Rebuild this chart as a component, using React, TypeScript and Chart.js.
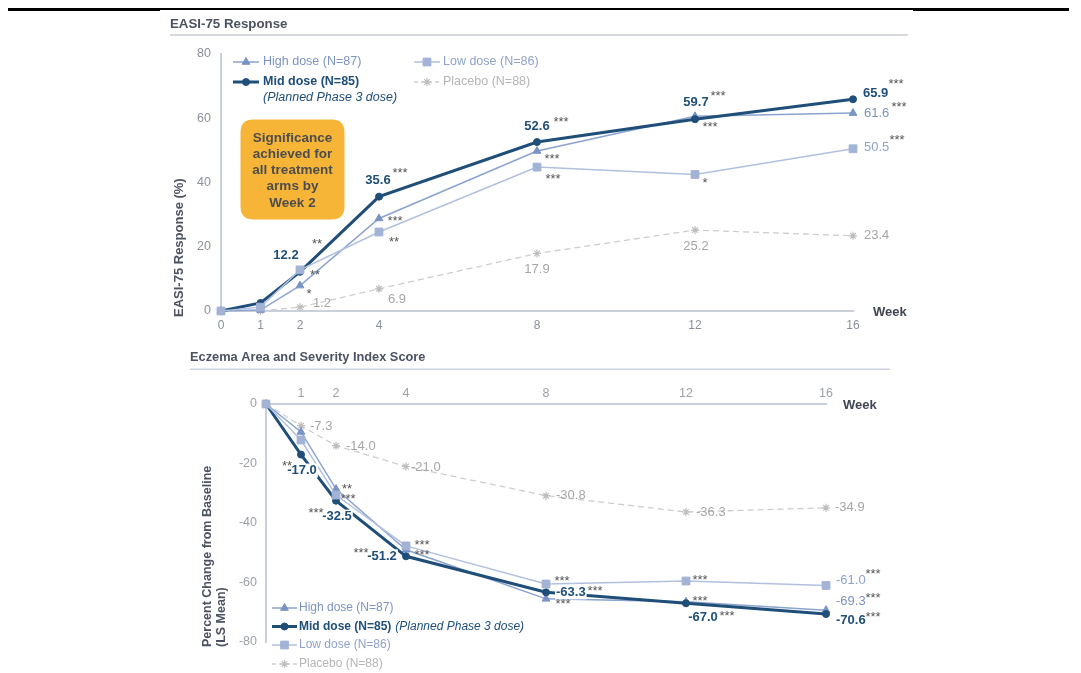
import React, { useEffect, useRef } from 'react';
import { Chart, registerables } from 'chart.js';

Chart.register(...registerables);

const FONT = '"Liberation Sans", Arial, Helvetica, sans-serif';

// ---------- data ----------
const weeks = [0, 1, 2, 4, 8, 12, 16];
const seriesNames = ['High dose (N=87)', 'Mid dose (N=85)', 'Low dose (N=86)', 'Placebo (N=88)'];
const midNote = '(Planned Phase 3 dose)';

// EASI-75 response (%)
const easiTitle = 'EASI-75 Response';
const easiYTitle = 'EASI-75 Response (%)';
const easiWeekTicks = [0, 1, 2, 4, 8, 12, 16];
const easiYTicks = [0, 20, 40, 60, 80];
const easiHigh = [0, 0.3, 7.9, 28.8, 49.8, 60.6, 61.6];
const easiMid = [0, 2.5, 12.2, 35.6, 52.6, 59.7, 65.9];
const easiLow = [0, 1.2, 12.8, 24.6, 44.8, 42.5, 50.5];
const easiPlacebo = [0, 0, 1.2, 6.9, 17.9, 25.2, 23.4];
const easiHighSig = ['', '', '*', '***', '***', '***', '***'];
const easiMidSig = ['', '', '**', '***', '***', '***', '***'];
const easiLowSig = ['', '', '**', '**', '***', '*', '***'];
const calloutLines = ['Significance', 'achieved for', 'all treatment', 'arms by', 'Week 2'];

// EASI percent change from baseline
const esiTitle = 'Eczema Area and Severity Index Score';
const esiYTitle1 = 'Percent Change from Baseline';
const esiYTitle2 = '(LS Mean)';
const esiWeekTicks = [1, 2, 4, 8, 12, 16];
const esiYTicks = [0, -20, -40, -60, -80];
const esiHigh = [0, -9.4, -28.6, -49.0, -65.5, -66.5, -69.3];
const esiMid = [0, -17.0, -32.5, -51.2, -63.3, -67.0, -70.6];
const esiLow = [0, -12.1, -30.6, -47.7, -60.5, -59.5, -61.0];
const esiPlacebo = [0, -7.3, -14.0, -21.0, -30.8, -36.3, -34.9];
const esiHighSig = ['', '', '**', '***', '***', '***', '***'];
const esiMidSig = ['', '**', '***', '***', '***', '***', '***'];
const esiLowSig = ['', '', '***', '***', '***', '***', '***'];

const weekLabel = 'Week';

// ---------- styles ----------
type St = { line: string; point: string; text: string; width: number; pointStyle: string; radius: number; dash: number[] };
const STYLES: St[] = [
  { line: '#8ba3cf', point: '#7a93c5', text: '#7b92c0', width: 1.5, pointStyle: 'triangle', radius: 4.5, dash: [] },
  { line: '#1f4e79', point: '#1f4e79', text: '#1f4e79', width: 3, pointStyle: 'circle', radius: 3.5, dash: [] },
  { line: '#b2c0de', point: '#a3b3d6', text: '#8fa2cb', width: 1.5, pointStyle: 'rect', radius: 5.5, dash: [] },
  { line: '#cdcdcd', point: '#bdbdbd', text: '#a6a6a6', width: 1.3, pointStyle: 'star', radius: 4, dash: [6, 4] },
];
const DRAW_ORDER = [2, 1, 0, 3]; // low on top, then mid, high, placebo
const LEGEND_TEXT = ['#7d93bf', '#1f4e79', '#8fa2cb', '#b5b5b5'];
const AXIS = '#c9d0dc';
const TITLE = '#4b5261';
const STAR = '#555555';

// label placement: [series, pointIndex, kind, dx, dy, align]
type Spot = [number, number, 'v' | 's', number, number, 'l' | 'c'];
const easiSpots: Spot[] = [
  [1, 2, 'v', -14, -16, 'c'], [1, 3, 'v', -1, -16, 'c'], [1, 4, 'v', 0, -16, 'c'], [1, 5, 'v', 1, -17, 'c'], [1, 6, 'v', 10, -6, 'l'],
  [0, 6, 'v', 11, 0, 'l'], [2, 6, 'v', 11, -1, 'l'],
  [3, 2, 'v', 13, -4, 'l'], [3, 3, 'v', 18, 11, 'c'], [3, 4, 'v', 0, 16, 'c'], [3, 5, 'v', 1, 16, 'c'], [3, 6, 'v', 11, 0, 'l'],
  [1, 2, 's', 17, -31, 'c'], [2, 2, 's', 15, 2, 'c'], [0, 2, 's', 9, 5, 'c'],
  [0, 3, 's', 16, 0, 'c'], [2, 3, 's', 15, 7, 'c'], [1, 3, 's', 21, -27, 'c'],
  [1, 4, 's', 24, -23, 'c'], [0, 4, 's', 15, 5, 'c'], [2, 4, 's', 16, 9, 'c'],
  [1, 5, 's', 23, -26, 'c'], [0, 5, 's', 15, 8, 'c'], [2, 5, 's', 10, 6, 'c'],
  [1, 6, 's', 43, -18, 'c'], [0, 6, 's', 46, -9, 'c'], [2, 6, 's', 44, -12, 'c'],
];
const esiSpots: Spot[] = [
  [3, 1, 'v', 9, 1, 'l'], [3, 2, 'v', 10, 1, 'l'], [3, 3, 'v', 5, 1, 'l'], [3, 4, 'v', 10, 0, 'l'], [3, 5, 'v', 10, 0, 'l'], [3, 6, 'v', 9, 0, 'l'],
  [1, 1, 'v', 1, 16, 'c'], [1, 2, 'v', 1, 16, 'c'], [1, 3, 'v', -24, 0, 'c'], [1, 4, 'v', 10, 0, 'l'], [1, 5, 'v', 17, 14, 'c'], [1, 6, 'v', 10, 6, 'l'],
  [2, 6, 'v', 10, -5, 'l'], [0, 6, 'v', 10, -9, 'l'],
  [1, 1, 's', -14, 8, 'c'], [0, 2, 's', 11, -3, 'c'], [2, 2, 's', 12, 1, 'c'], [1, 2, 's', -20, 9, 'c'],
  [1, 3, 's', -45, -6, 'c'], [2, 3, 's', 16, -4, 'c'], [0, 3, 's', 16, 2, 'c'],
  [2, 4, 's', 16, -6, 'c'], [1, 4, 's', 49, -4, 'c'], [0, 4, 's', 17, 2, 'c'],
  [2, 5, 's', 14, -4, 'c'], [0, 5, 's', 14, -4, 'c'], [1, 5, 's', 41, 10, 'c'],
  [2, 6, 's', 47, -14, 'c'], [0, 6, 's', 47, -15, 'c'], [1, 6, 's', 47, 0, 'c'],
];

// ---------- helpers ----------
function makeDatasets(series: number[][]) {
  return series.map((vals, s) => ({
    label: seriesNames[s],
    data: weeks.map((w, i) => ({ x: w, y: vals[i] })),
    borderColor: STYLES[s].line,
    backgroundColor: STYLES[s].point,
    borderWidth: STYLES[s].width,
    borderDash: STYLES[s].dash,
    pointStyle: STYLES[s].pointStyle,
    pointRadius: STYLES[s].radius,
    pointHoverRadius: STYLES[s].radius,
    pointBackgroundColor: STYLES[s].point,
    pointBorderColor: STYLES[s].point,
    pointBorderWidth: s === 3 ? 1.2 : 1,
    order: DRAW_ORDER.indexOf(s),
    tension: 0,
    fill: false,
    clip: false,
  }));
}

function drawMarker(ctx: CanvasRenderingContext2D, s: number, x: number, y: number) {
  const st = STYLES[s];
  const r = st.radius;
  ctx.save();
  ctx.fillStyle = st.point;
  ctx.strokeStyle = st.point;
  ctx.lineWidth = s === 3 ? 1.2 : 1;
  ctx.setLineDash([]);
  ctx.beginPath();
  if (st.pointStyle === 'circle') {
    ctx.arc(x, y, r, 0, Math.PI * 2);
    ctx.fill();
    ctx.stroke();
  } else if (st.pointStyle === 'triangle') {
    for (let k = 0; k < 3; k++) {
      const a = (k * 2 * Math.PI) / 3;
      const px = x + Math.sin(a) * r;
      const py = y - Math.cos(a) * r;
      if (k === 0) ctx.moveTo(px, py);
      else ctx.lineTo(px, py);
    }
    ctx.closePath();
    ctx.fill();
    ctx.stroke();
  } else if (st.pointStyle === 'rect') {
    const h = r * Math.SQRT1_2;
    ctx.rect(x - h, y - h, 2 * h, 2 * h);
    ctx.fill();
    ctx.stroke();
  } else {
    for (let k = 0; k < 4; k++) {
      const a = (k * Math.PI) / 4;
      ctx.moveTo(x - Math.cos(a) * r, y - Math.sin(a) * r);
      ctx.lineTo(x + Math.cos(a) * r, y + Math.sin(a) * r);
    }
    ctx.stroke();
  }
  ctx.restore();
}

function legendItem(ctx: CanvasRenderingContext2D, s: number, x0: number, x1: number, y: number) {
  const st = STYLES[s];
  ctx.save();
  ctx.strokeStyle = st.line;
  ctx.lineWidth = st.width;
  ctx.setLineDash(st.dash.length ? [4, 3] : []);
  ctx.beginPath();
  ctx.moveTo(x0, y);
  ctx.lineTo(x1, y);
  ctx.stroke();
  ctx.restore();
  drawMarker(ctx, s, (x0 + x1) / 2, y);
}

function drawSpots(chart: any, spots: Spot[], vals: number[][], sigs: string[][], whiteBehindMid: boolean) {
  const ctx: CanvasRenderingContext2D = chart.ctx;
  ctx.save();
  spots.forEach(([s, i, k, dx, dy, al]) => {
    const pt = chart.getDatasetMeta(s).data[i];
    if (!pt) return;
    const x = pt.x + dx;
    const y = pt.y + dy;
    if (k === 'v') {
      const t = vals[s][i].toFixed(1);
      ctx.font = (s === 1 ? 'bold ' : '') + '13px ' + FONT;
      ctx.textAlign = al === 'l' ? 'left' : 'center';
      ctx.textBaseline = 'middle';
      if (s === 1 && whiteBehindMid) {
        const w = ctx.measureText(t).width;
        const left = al === 'l' ? x : x - w / 2;
        ctx.fillStyle = '#fff';
        ctx.fillRect(left - 1, y - 7, w + 2, 14);
      }
      ctx.fillStyle = STYLES[s].text;
      ctx.fillText(t, x, y);
    } else {
      const t = sigs[s][i];
      if (!t) return;
      ctx.font = '13px ' + FONT;
      ctx.fillStyle = STAR;
      ctx.textAlign = 'center';
      ctx.textBaseline = 'alphabetic';
      ctx.fillText(t, x, y + 7);
    }
  });
  ctx.restore();
}

function text(ctx: CanvasRenderingContext2D, t: string, x: number, y: number, font: string, color: string, align: CanvasTextAlign = 'left') {
  ctx.font = font;
  ctx.fillStyle = color;
  ctx.textAlign = align;
  ctx.textBaseline = 'middle';
  ctx.fillText(t, x, y);
}

function roundRect(ctx: CanvasRenderingContext2D, x: number, y: number, w: number, h: number, r: number) {
  ctx.beginPath();
  ctx.moveTo(x + r, y);
  ctx.lineTo(x + w - r, y);
  ctx.quadraticCurveTo(x + w, y, x + w, y + r);
  ctx.lineTo(x + w, y + h - r);
  ctx.quadraticCurveTo(x + w, y + h, x + w - r, y + h);
  ctx.lineTo(x + r, y + h);
  ctx.quadraticCurveTo(x, y + h, x, y + h - r);
  ctx.lineTo(x, y + r);
  ctx.quadraticCurveTo(x, y, x + r, y);
  ctx.closePath();
}

const topExtras = {
  id: 'topExtras',
  afterDraw(chart: any) {
    const ctx: CanvasRenderingContext2D = chart.ctx;
    ctx.save();
    // header rule
    ctx.fillStyle = '#000';
    ctx.fillRect(8, 8, 1061, 3);
    ctx.fillStyle = '#fff';
    ctx.fillRect(160, 10, 753, 2);
    // title
    text(ctx, easiTitle, 170, 24, 'bold 13.3px ' + FONT, TITLE);
    ctx.fillStyle = '#d6dadf';
    ctx.fillRect(170, 34, 738, 2);
    // y title
    ctx.save();
    ctx.translate(179, 317);
    ctx.rotate(-Math.PI / 2);
    text(ctx, easiYTitle, 0, 0, 'bold 13px ' + FONT, TITLE);
    ctx.restore();
    // week label
    text(ctx, weekLabel, 873, 312, 'bold 13px ' + FONT, '#3f4553');
    // legend
    const lf = '12.5px ' + FONT;
    legendItem(ctx, 0, 233, 259, 62);
    text(ctx, seriesNames[0], 263, 62, lf, LEGEND_TEXT[0]);
    legendItem(ctx, 2, 414, 440, 62);
    text(ctx, seriesNames[2], 443, 62, lf, LEGEND_TEXT[2]);
    legendItem(ctx, 1, 233, 259, 82);
    text(ctx, seriesNames[1], 263, 82, 'bold ' + lf, LEGEND_TEXT[1]);
    legendItem(ctx, 3, 414, 440, 82);
    text(ctx, seriesNames[3], 443, 82, lf, LEGEND_TEXT[3]);
    text(ctx, midNote, 263, 98, 'italic ' + lf, LEGEND_TEXT[1]);
    // callout
    ctx.fillStyle = '#f7b538';
    roundRect(ctx, 240.5, 119.5, 104, 100, 13);
    ctx.fill();
    calloutLines.forEach((l, i) => text(ctx, l, 292.5, 138 + i * 16.2, 'bold 13.5px ' + FONT, '#4d4d4d', 'center'));
    ctx.restore();
    drawSpots(chart, easiSpots, [easiHigh, easiMid, easiLow, easiPlacebo], [easiHighSig, easiMidSig, easiLowSig, []], true);
  },
};

const botExtras = {
  id: 'botExtras',
  afterDraw(chart: any) {
    const ctx: CanvasRenderingContext2D = chart.ctx;
    ctx.save();
    text(ctx, esiTitle, 190, 17, 'bold 12.8px ' + FONT, TITLE);
    ctx.fillStyle = '#c9d1e3';
    ctx.fillRect(190, 28.5, 700, 1.5);
    ctx.save();
    ctx.translate(208, 307);
    ctx.rotate(-Math.PI / 2);
    text(ctx, esiYTitle1, 0, 0, 'bold 12.5px ' + FONT, TITLE);
    text(ctx, esiYTitle2, 0, 14, 'bold 12.5px ' + FONT, TITLE);
    ctx.restore();
    text(ctx, weekLabel, 843, 65, 'bold 13px ' + FONT, '#3f4553');
    // legend
    const lf = '12px ' + FONT;
    const rows = [0, 1, 2, 3];
    const ys = [268, 286.5, 305, 324];
    rows.forEach((s, r) => {
      legendItem(ctx, s, 272, 297, ys[r]);
      text(ctx, seriesNames[s], 299, ys[r], (s === 1 ? 'bold ' : '') + lf, LEGEND_TEXT[s]);
    });
    ctx.font = 'bold ' + lf;
    const w = ctx.measureText(seriesNames[1]).width;
    text(ctx, midNote, 299 + w + 4, ys[1], 'italic ' + lf, LEGEND_TEXT[1]);
    ctx.restore();
    drawSpots(chart, esiSpots, [esiHigh, esiMid, esiLow, esiPlacebo], [esiHighSig, esiMidSig, esiLowSig, []], true);
  },
};

function topConfig(): any {
  return {
    type: 'line',
    data: { datasets: makeDatasets([easiHigh, easiMid, easiLow, easiPlacebo]) },
    plugins: [topExtras],
    options: {
      responsive: false,
      animation: false,
      devicePixelRatio: 1,
      layout: { padding: { left: 0, right: 228, top: 54, bottom: 0 } },
      plugins: { legend: { display: false }, tooltip: { enabled: false } },
      scales: {
        x: {
          type: 'linear',
          min: 0,
          max: 16,
          afterBuildTicks: (sc: any) => { sc.ticks = easiWeekTicks.map((v) => ({ value: v })); },
          afterFit: (sc: any) => { sc.height = 29; },
          grid: { display: false, drawTicks: false },
          border: { display: true, color: AXIS, width: 2 },
          ticks: { padding: 7, color: '#8a909c', font: { size: 12, family: FONT }, autoSkip: false, maxRotation: 0 },
        },
        y: {
          type: 'linear',
          min: 0,
          max: 80,
          afterBuildTicks: (sc: any) => { sc.ticks = easiYTicks.map((v) => ({ value: v })); },
          afterFit: (sc: any) => { sc.width = 221; },
          grid: { display: false, drawTicks: false },
          border: { display: true, color: AXIS, width: 2 },
          ticks: { padding: 10, color: '#8a909c', font: { size: 12.5, family: FONT } },
        },
      },
    },
  };
}

function botConfig(): any {
  return {
    type: 'line',
    data: { datasets: makeDatasets([esiHigh, esiMid, esiLow, esiPlacebo]) },
    plugins: [botExtras],
    options: {
      responsive: false,
      animation: false,
      devicePixelRatio: 1,
      layout: { padding: { left: 0, right: 255, top: 40, bottom: 31 } },
      plugins: { legend: { display: false }, tooltip: { enabled: false } },
      scales: {
        x: {
          type: 'linear',
          position: 'top',
          min: 0,
          max: 16,
          afterBuildTicks: (sc: any) => { sc.ticks = esiWeekTicks.map((v) => ({ value: v })); },
          afterFit: (sc: any) => { sc.height = 24; },
          grid: { display: false, drawTicks: false },
          border: { display: true, color: AXIS, width: 2 },
          ticks: { padding: 3, color: '#9ca1aa', font: { size: 12.5, family: FONT }, autoSkip: false, maxRotation: 0 },
        },
        y: {
          type: 'linear',
          min: -80,
          max: 0,
          afterBuildTicks: (sc: any) => { sc.ticks = esiYTicks.map((v) => ({ value: v })); },
          afterFit: (sc: any) => { sc.width = 266; },
          grid: { display: false, drawTicks: false },
          border: { display: true, color: AXIS, width: 2 },
          ticks: { padding: 9, color: '#9ca1aa', font: { size: 12.5, family: FONT } },
        },
      },
    },
  };
}

export default function App() {
  const topRef = useRef<HTMLCanvasElement>(null);
  const botRef = useRef<HTMLCanvasElement>(null);
  useEffect(() => {
    Chart.defaults.font.family = FONT;
    const c1 = new Chart(topRef.current as HTMLCanvasElement, topConfig());
    const c2 = new Chart(botRef.current as HTMLCanvasElement, botConfig());
    return () => {
      c1.destroy();
      c2.destroy();
    };
  }, []);
  return (
    <div style={{ position: 'absolute', left: 0, top: 0, width: 1081, height: 673, background: '#fff' }}>
      <canvas ref={topRef} width={1081} height={340} style={{ position: 'absolute', left: 0, top: 0, width: 1081, height: 340 }} />
      <canvas ref={botRef} width={1081} height={333} style={{ position: 'absolute', left: 0, top: 340, width: 1081, height: 333 }} />
    </div>
  );
}
